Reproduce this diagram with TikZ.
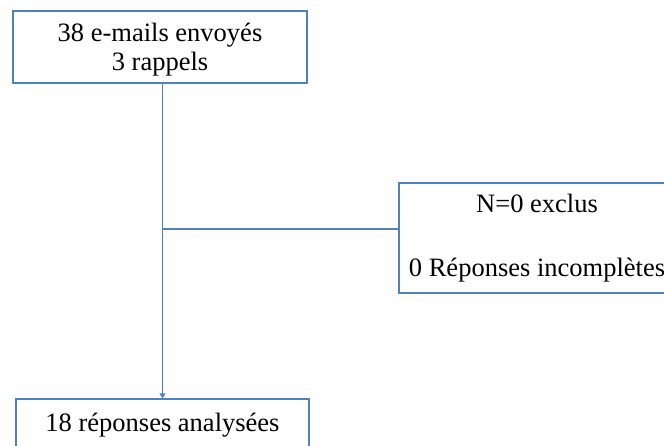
\documentclass[tikz,border=0pt]{standalone}
\usepackage{fontspec}
\setmainfont{Liberation Serif}
\usetikzlibrary{arrows.meta,positioning}
\definecolor{boxblue}{RGB}{79,129,189}

\begin{document}
\begin{tikzpicture}[
    x=1pt, y=-1pt,
    box/.style={rectangle, draw=boxblue, line width=1.1pt, inner sep=0pt, align=center, font=\fontsize{26.5}{29.5}\selectfont},
    link/.style={draw=boxblue, line width=1.1pt},
    arr/.style={link, -{Triangle[length=5pt,width=6pt]}}
]
    \useasboundingbox (0,0) rectangle (664,445);
    \clip (0,0) rectangle (664,445);

    % Boxes
    \node[box, minimum width=294pt, minimum height=72pt] (sent) at (160,47) {\rule{0pt}{24pt}38 e-mails envoyés\\3 rappels};
    \node[box, minimum width=276pt, minimum height=110pt] (excl) at (537,238) {N=0 exclus\\[34pt]0 Réponses incomplètes};
    \node[box, minimum width=293pt, minimum height=52pt] (kept) at (162.5,425) {18 réponses analysées};

    % Links
    \draw[arr] (kept.north |- sent.south) -- (kept.north);
    \path (kept.north |- 0,229) coordinate (junc);
    \draw[link] (junc) -- (junc -| excl.west);
\end{tikzpicture}
\end{document}
